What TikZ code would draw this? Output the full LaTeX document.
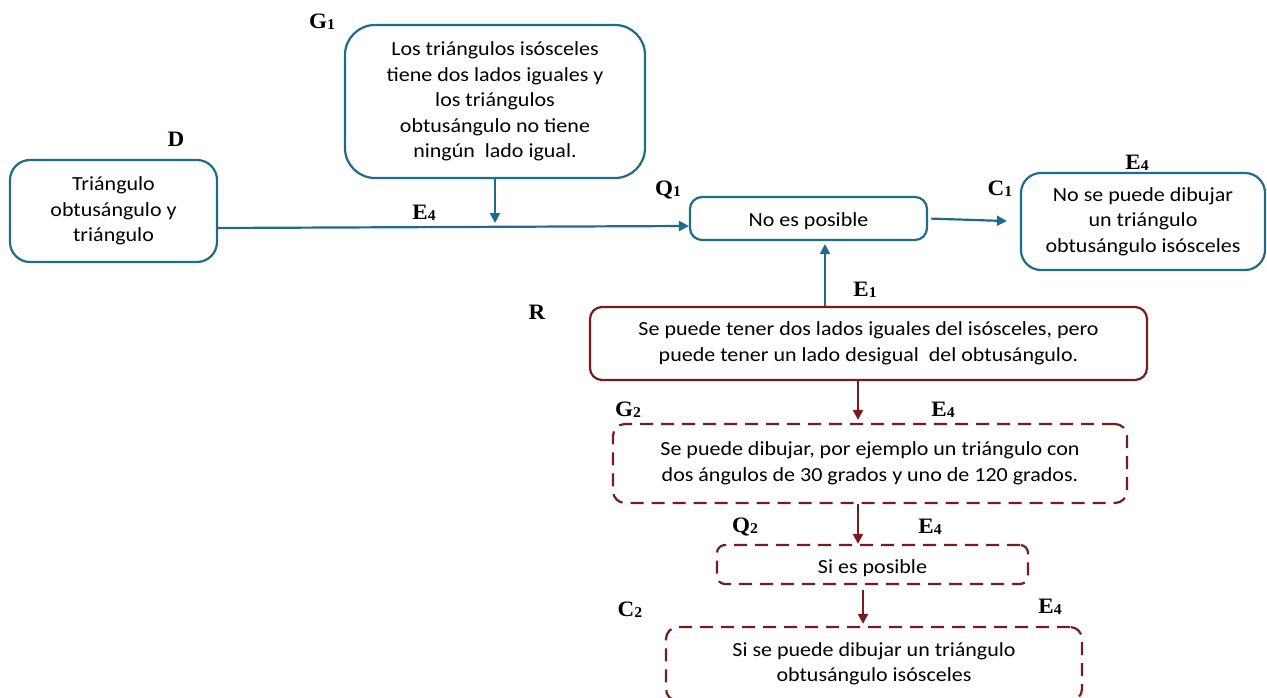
\documentclass[tikz,border=0pt]{standalone}
\usepackage{fontspec}
\setmainfont{Carlito}[FakeStretch=1.1]
\newfontfamily\tagfont{Liberation Serif}[FakeStretch=1.05]
\usetikzlibrary{arrows.meta,positioning,calc}
\definecolor{tealline}{RGB}{31,107,137}
\definecolor{wineline}{RGB}{118,28,30}
\newcommand{\boxfont}{\fontsize{20}{25.5}\selectfont}
\newcommand{\tagtext}[2]{{\tagfont\bfseries\fontsize{22}{22}\selectfont #1\raisebox{-1pt}{\fontsize{15}{15}\selectfont #2}}}
\newcommand{\lowtext}[2]{\raisebox{-#1}[\height][\depth]{#2}}

\begin{document}
\begin{tikzpicture}[
	x=1pt, y=-1pt,
	all box/.style={align=center, font=\boxfont, line width=2.2pt, inner sep=0pt},
	teal box/.style={all box, draw=tealline, rounded corners=20pt},
	wine box/.style={all box, draw=wineline, rounded corners=12pt},
	wine dash/.style={wine box, dash pattern=on 13pt off 8pt},
	teal arrow/.style={draw=tealline, line width=2.2pt, -{Triangle[length=10pt,width=10pt]}},
	wine arrow/.style={draw=wineline, line width=2.2pt, -{Triangle[length=10pt,width=10pt]}},
	tag/.style={inner sep=0pt}
	]
	\useasboundingbox (0,0) rectangle (1267,698);

	\node[teal box, minimum width=207pt, minimum height=102pt]	(tri)		at (113.5,211)	{Triángulo\\ obtusángulo y\\ triángulo};
	\node[teal box, minimum width=300pt, minimum height=153pt, rounded corners=30pt]	(isos)	at (495,101.5)	{Los triángulos isósceles\\ tiene dos lados iguales y\\ los triángulos\\ obtusángulo no tiene\\ ningún \ lado igual.};
	\node[teal box, minimum width=237pt, minimum height=43pt, rounded corners=12pt]	(noposible)	at (808.5,218.5)	{\lowtext{3pt}{No es posible}};
	\node[teal box, minimum width=244pt, minimum height=97pt]	(nopuede)	at (1143,221.5)	{No se puede dibujar\\ un triángulo\\ obtusángulo isósceles};

	\node[wine box, minimum width=557pt, minimum height=73pt]	(lados)		at (868.5,343.5)	{Se puede tener dos lados iguales del isósceles, pero\\ puede tener un lado desigual \ del obtusángulo.};
	\node[wine dash, minimum width=514pt, minimum height=79pt]	(ejemplo)	at (870,463.5)	{Se puede dibujar, por ejemplo un triángulo con\\ dos ángulos de 30 grados y uno de 120 grados.};
	\node[wine dash, minimum width=311pt, minimum height=39pt, rounded corners=8pt]	(siposible)	at (872.5,564.5)	{\lowtext{4pt}{Si es posible}};
	\node[wine dash, minimum width=416pt, minimum height=74pt]	(sipuede)	at (874,664)	{Si se puede dibujar un triángulo\\ obtusángulo isósceles};

	\node[tag]	(tagG1)	at (322,22)		{\tagtext{G}{1}};
	\node[tag]	(tagD)	at (176,140)	{\tagtext{D}{}};
	\node[tag]	(tagEa)	at (424,213)	{\tagtext{E}{4}};
	\node[tag]	(tagQ1)	at (668,190)	{\tagtext{Q}{1}};
	\node[tag]	(tagC1)	at (1000,189)	{\tagtext{C}{1}};
	\node[tag]	(tagEb)	at (1137,163)	{\tagtext{E}{4}};
	\node[tag]	(tagE1)	at (865,290)	{\tagtext{E}{1}};
	\node[tag]	(tagR)	at (537,313)	{\tagtext{R}{}};
	\node[tag]	(tagG2)	at (628,410)	{\tagtext{G}{2}};
	\node[tag]	(tagEc)	at (943,410)	{\tagtext{E}{4}};
	\node[tag]	(tagQ2)	at (745,527)	{\tagtext{Q}{2}};
	\node[tag]	(tagEd)	at (930,527)	{\tagtext{E}{4}};
	\node[tag]	(tagC2)	at (630,610)	{\tagtext{C}{2}};
	\node[tag]	(tagEe)	at (1050,607)	{\tagtext{E}{4}};

	\coordinate (meet) at (495,223);
	\draw[teal arrow] ([yshift=-17pt]tri.east) -- ([yshift=-7.5pt]noposible.west);
	\draw[teal arrow] (isos.south) -- (meet);
	\draw[teal arrow, shorten <=3pt, shorten >=13pt] (noposible.east) -- (nopuede.west);
	\draw[teal arrow, shorten >=3pt] ([xshift=-43.5pt]lados.north) -- ([xshift=-43.5pt]lados.north |- noposible.south);
	\draw[wine arrow, shorten >=3pt] ([xshift=-10.5pt]lados.south) -- ([xshift=-10.5pt]lados.south |- ejemplo.north);
	\draw[wine arrow] ([xshift=-12pt]ejemplo.south) -- ([xshift=-12pt]ejemplo.south |- siposible.north);
	\draw[wine arrow, shorten <=5pt, shorten >=2pt] ([xshift=-9.5pt]siposible.south) -- ([xshift=-9.5pt]siposible.south |- sipuede.north);
\end{tikzpicture}
\end{document}
